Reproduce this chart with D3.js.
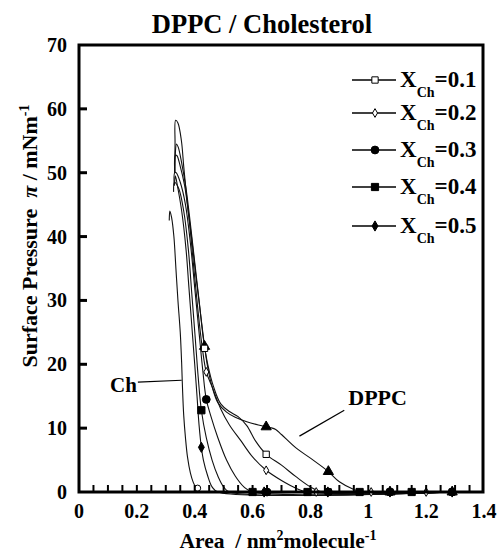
<!DOCTYPE html>
<html><head><meta charset="utf-8">
<script src="https://cdn.jsdelivr.net/npm/d3@7"></script>
<style>body{margin:0;background:#fff}svg{display:block}text{font-family:"Liberation Serif","Times New Roman",serif;fill:#000}</style>
</head><body><svg id="c" width="499" height="553"></svg>
<script>
// ---- data ----
const xTickValues = [0,0.2,0.4,0.6,0.8,1,1.2,1.4];
const xTickLabels = ["0","0.2","0.4","0.6","0.8","1","1.2","1.4"];
const yTickValues = [0,10,20,30,40,50,60,70];
const yTickLabels = ["0","10","20","30","40","50","60","70"];
const xMinorTicks = [0.05,0.1,0.15,0.2,0.25,0.3,0.35,0.4,0.45,0.5,0.55,0.6,0.65,0.7,0.75,0.8,0.85,0.9,0.95,1,1.05,1.1,1.15,1.2,1.25,1.3,1.35];

const legendValues = ["=0.1","=0.2","=0.3","=0.4","=0.5"];

const chCurve = [[0.42,0],[0.412,0.2],[0.405,0.6],[0.395,1.5],[0.385,3],[0.375,5.5],[0.368,8.5],[0.362,12],[0.358,16],[0.355,20],[0.35,25],[0.342,30],[0.335,35],[0.328,40],[0.32,43],[0.314,44],[0.312,42.5]];
const chMarkers = [[0.41,0.6]];

const x01Curve = [[1.3,0],[0.84,0],[0.8,0.8],[0.75,2.4],[0.7,4.2],[0.647,5.9],[0.61,8],[0.58,10.4],[0.55,11.8],[0.52,12.6],[0.49,13.8],[0.465,16.5],[0.445,20],[0.43,24],[0.415,30],[0.4,36],[0.385,42],[0.37,47.5],[0.355,51.5],[0.343,54],[0.337,54.5],[0.333,53],[0.331,50]];
const x01Markers = [[0.434,22.5],[0.647,5.9],[0.862,0],[1.075,0],[1.29,0]];

const x02Curve = [[1.3,0],[0.79,0],[0.75,0.6],[0.7,1.8],[0.647,3.4],[0.6,5.5],[0.56,8],[0.52,10.5],[0.49,13],[0.46,16.5],[0.44,18.8],[0.425,23],[0.41,29],[0.395,36],[0.38,43],[0.365,48],[0.35,51],[0.338,52.7],[0.333,52.7],[0.331,50]];
const x02Markers = [[0.44,18.8],[0.647,3.4],[0.82,0],[1.01,0],[1.2,0]];

const x03Curve = [[1.3,0],[0.6,0],[0.57,0.8],[0.54,2.5],[0.51,5],[0.48,8.5],[0.455,12],[0.44,14.5],[0.428,19],[0.415,25],[0.4,32],[0.385,39],[0.368,45],[0.35,48.5],[0.336,50],[0.331,50],[0.329,48]];
const x03Markers = [[0.44,14.5],[0.65,0],[0.862,0],[1.075,0],[1.29,0]];

const x04Curve = [[1.3,0],[0.52,0],[0.5,0.8],[0.48,2.5],[0.46,5],[0.44,8.5],[0.423,12.8],[0.412,18],[0.402,24],[0.39,31],[0.378,38],[0.362,44],[0.345,47.5],[0.33,48.5],[0.327,47]];
const x04Markers = [[0.423,12.8],[0.6,0],[0.79,0],[0.97,0],[1.15,0]];

const x05Curve = [[1.3,0],[0.48,0],[0.46,0.8],[0.445,2.5],[0.43,5],[0.423,7],[0.415,10.5],[0.408,15],[0.4,20],[0.39,26],[0.38,32],[0.37,38],[0.355,44],[0.34,48],[0.333,49.5],[0.33,48]];
const x05Markers = [[0.423,7],[0.64,0],[0.86,0],[1.075,0],[1.29,0]];

const dppcCurve = [[1.3,0],[0.98,0],[0.95,0.4],[0.9,1.6],[0.862,3.2],[0.8,5.3],[0.75,6.9],[0.7,9.0],[0.68,9.8],[0.66,10.1],[0.62,10.5],[0.58,11],[0.54,11.7],[0.51,12.5],[0.48,14],[0.46,16.5],[0.445,19.5],[0.434,22.8],[0.42,28],[0.405,33.5],[0.39,39.5],[0.375,45],[0.362,51],[0.354,55],[0.342,57.8],[0.334,58.2],[0.332,54.5],[0.331,50]];
const dppcMarkers = [[0.434,22.8],[0.647,10.2],[0.862,3.2],[1.075,0],[1.29,0]];

const chLabelAnchor = [0.2,17.2], chCurvePoint = [0.355,17.5];
const dppcLabelAnchor = [0.917,12.8], dppcCurvePoint = [0.762,8.75];

// ---- layout ----
const svg = d3.select("#c");
const L = 79, R = 484, T = 45, B = 492;
const x = d3.scaleLinear().domain([0,1.4]).range([L,R]);
const y = d3.scaleLinear().domain([0,70]).range([B,T]);

const sym = {
  openSquare: {type:d3.symbolSquare, size:40, fill:"#fff"},
  openDiamond: {type:d3.symbolDiamond, size:22, fill:"#fff"},
  circle: {type:d3.symbolCircle, size:48, fill:"#000"},
  square: {type:d3.symbolSquare, size:52, fill:"#000"},
  diamond: {type:d3.symbolDiamond, size:30, fill:"#000"},
  triangle: {type:d3.symbolTriangle, size:45, fill:"#000"},
  openCircle: {type:d3.symbolCircle, size:30, fill:"#fff"}
};

const series = [
  {curve:chCurve, markers:chMarkers, s:sym.openCircle},
  {curve:dppcCurve, markers:dppcMarkers, s:sym.triangle},
  {curve:x01Curve, markers:x01Markers, s:sym.openSquare},
  {curve:x02Curve, markers:x02Markers, s:sym.openDiamond},
  {curve:x03Curve, markers:x03Markers, s:sym.circle},
  {curve:x04Curve, markers:x04Markers, s:sym.square},
  {curve:x05Curve, markers:x05Markers, s:sym.diamond}
];

const line = d3.line().x(d=>x(d[0])).y(d=>y(d[1])).curve(d3.curveCatmullRom.alpha(0.5));
const g = svg.append("g");
series.forEach(se=>{
  g.append("path").attr("d",line(se.curve)).attr("fill","none").attr("stroke","#111").attr("stroke-width",1.1);
});
series.forEach(se=>{
  g.selectAll(null).data(se.markers).enter().append("path")
    .attr("transform",d=>`translate(${x(d[0])},${y(d[1])})`)
    .attr("d",d3.symbol().type(se.s.type).size(se.s.size))
    .attr("fill",se.s.fill).attr("stroke","#000").attr("stroke-width",1);
});

// annotations
svg.append("line").attr("x1",x(chLabelAnchor[0])+1).attr("y1",y(chLabelAnchor[1])).attr("x2",x(chCurvePoint[0])).attr("y2",y(chCurvePoint[1])).attr("stroke","#000").attr("stroke-width",1.2);
svg.append("text").attr("x",x(chLabelAnchor[0])).attr("y",y(chLabelAnchor[1])+10).attr("text-anchor","end").attr("font-size",21).attr("font-weight","bold").text("Ch");
svg.append("line").attr("x1",x(dppcCurvePoint[0])).attr("y1",y(dppcCurvePoint[1])).attr("x2",x(dppcLabelAnchor[0])).attr("y2",y(dppcLabelAnchor[1])).attr("stroke","#000").attr("stroke-width",1.2);
svg.append("text").attr("x",x(dppcLabelAnchor[0])+4).attr("y",y(dppcLabelAnchor[1])-5).attr("font-size",22).attr("font-weight","bold").text("DPPC");

// frame
svg.append("rect").attr("x",L).attr("y",T).attr("width",R-1-L).attr("height",B-T).attr("fill","none").attr("stroke","#000").attr("stroke-width",3);

// y ticks
svg.selectAll(".yt").data(yTickValues.slice(1,7)).enter().append("line")
  .attr("x1",L).attr("x2",L+8).attr("y1",d=>y(d)).attr("y2",d=>y(d)).attr("stroke","#000").attr("stroke-width",3);
svg.selectAll(".yl").data(yTickValues).enter().append("text")
  .attr("x",L-12).attr("y",d=>y(d)+7).attr("text-anchor","end").attr("font-size",20).attr("font-weight","bold")
  .text((d,i)=>yTickLabels[i]);
// x ticks
svg.selectAll(".xt").data(xMinorTicks).enter().append("line")
  .attr("x1",d=>x(d)).attr("x2",d=>x(d)).attr("y1",B).attr("y2",B-7).attr("stroke","#000").attr("stroke-width",2);
svg.selectAll(".xl").data(xTickValues).enter().append("text")
  .attr("x",d=>x(d)).attr("y",B+26).attr("text-anchor","middle").attr("font-size",20).attr("font-weight","bold")
  .text((d,i)=>xTickLabels[i]);

// title
svg.append("text").attr("x",262).attr("y",33).attr("text-anchor","middle").attr("font-size",26.5).attr("font-weight","bold").text("DPPC / Cholesterol");

// x label
const xl = svg.append("text").attr("x",278).attr("y",548).attr("text-anchor","middle").attr("font-size",21.5).attr("font-weight","bold").attr("xml:space","preserve");
xl.append("tspan").text("Area  / nm");
xl.append("tspan").attr("font-size",14).attr("dy",-8).text("2");
xl.append("tspan").attr("dy",8).text("molecule");
xl.append("tspan").attr("font-size",14).attr("dy",-8).text("-1");

// y label
const yl = svg.append("text").attr("transform","translate(37,236) rotate(-90)").attr("text-anchor","middle").attr("font-size",22).attr("font-weight","bold").attr("xml:space","preserve");
yl.append("tspan").text("Surface Pressure  ");
yl.append("tspan").attr("font-style","italic").text("π");
yl.append("tspan").text(" / mNm");
yl.append("tspan").attr("font-size",14).attr("dy",-8).text("-1");

// legend
const legendRows = [80,113,150,187,226];
const legendSyms = [sym.openSquare, sym.openDiamond, sym.circle, sym.square, sym.diamond];
legendRows.forEach((ry,i)=>{
  svg.append("line").attr("x1",352).attr("x2",396).attr("y1",ry).attr("y2",ry).attr("stroke","#000").attr("stroke-width",1.3);
  svg.append("path").attr("transform",`translate(375,${ry})`).attr("d",d3.symbol().type(legendSyms[i].type).size(legendSyms[i].size))
    .attr("fill",legendSyms[i].fill).attr("stroke","#000").attr("stroke-width",1);
  const t = svg.append("text").attr("x",400).attr("y",ry+7).attr("font-size",23).attr("font-weight","bold");
  t.append("tspan").text("X");
  t.append("tspan").attr("font-size",14).attr("dy",10).text("Ch");
  t.append("tspan").attr("dy",-10).text(legendValues[i]);
});
</script></body></html>
